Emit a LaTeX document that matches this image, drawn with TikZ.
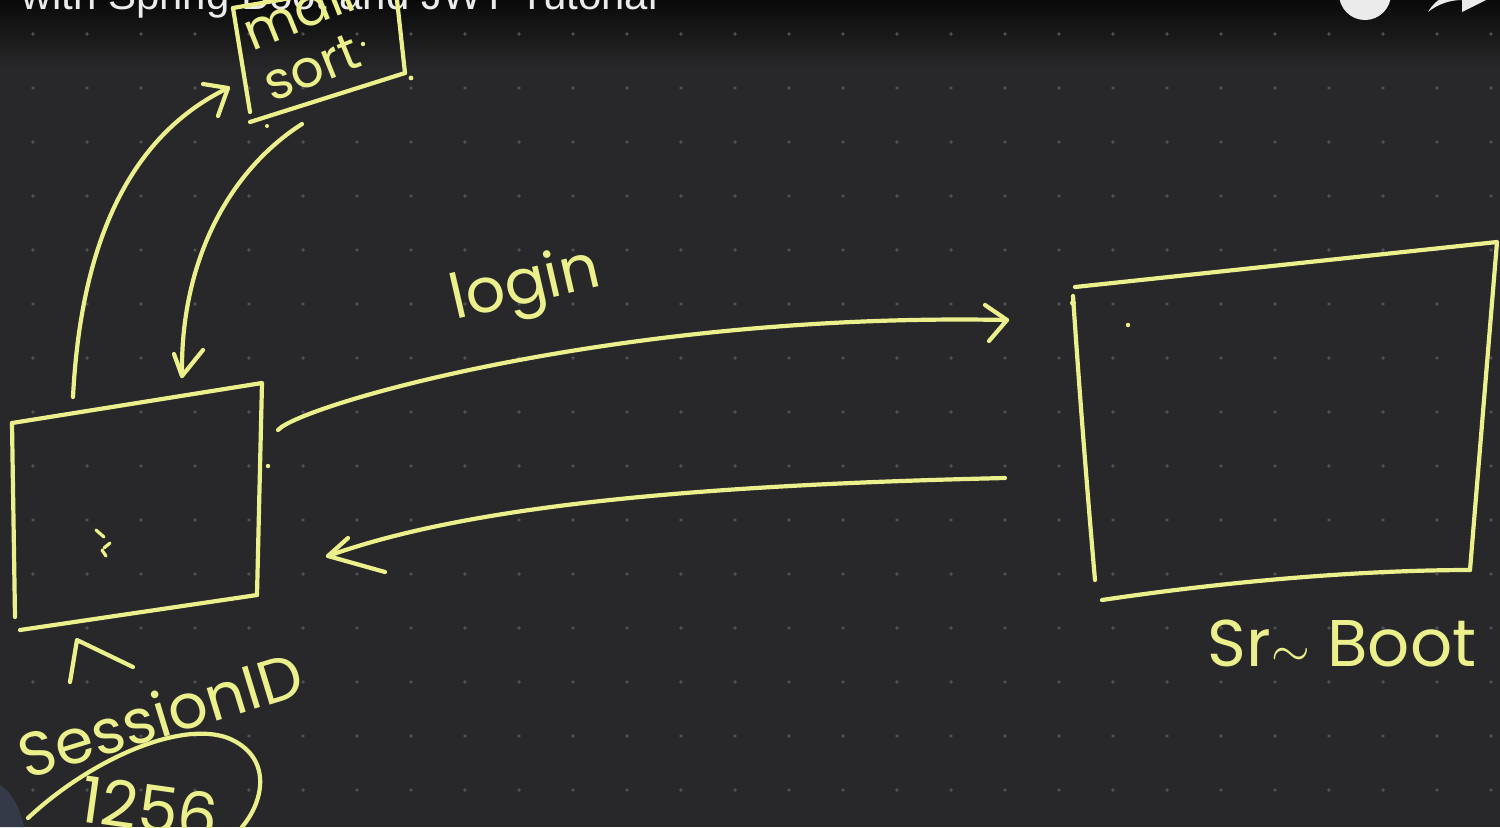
\documentclass[tikz,border=0pt]{standalone}
\usepackage{fontspec}
\setmainfont{Liberation Sans}
\newfontfamily\handfont{Poppins}
\definecolor{board}{RGB}{40,40,42}
\definecolor{chalk}{RGB}{236,240,140}
\definecolor{griddot}{RGB}{80,80,82}
\definecolor{person}{RGB}{52,58,72}
\begin{document}
\begin{tikzpicture}[x=0.5pt,y=-0.5pt,
  pen/.style={draw=chalk, line width=2.1pt, line cap=round, line join=round},
  hand/.style={text=chalk, font=\handfont\fontsize{26}{26}\selectfont, inner sep=0pt}]
\useasboundingbox (0,0) rectangle (1500,827);
\clip (0,0) rectangle (1500,827);
\fill[board] (0,0) rectangle (1500,827);
\shade[top color=black!75!board, bottom color=board] (0,0) rectangle (1500,70);
% grid of dots
\foreach \i in {0,...,27}{\foreach \j in {0,...,15}{
  \fill[griddot] (33+54*\i,34+54*\j) circle (1.8);}}
% video title (cut off)
\node[anchor=base east, text=white!92!black, font=\fontsize{21}{21}\selectfont, inner sep=0pt] (title) at (658,9) {with Spring Boot and JWT Tutorial};
% player icons
\fill[white!92!black] (1365,-6) circle (26);
\fill[white!92!black] (1428,12) .. controls (1436,-2) and (1450,-8) .. (1462,-8) -- (1462,-20) -- (1490,-2) -- (1462,12) -- (1462,0) .. controls (1450,0) and (1438,4) .. cycle;
% person at the lower left corner
\fill[person] (0,785) .. controls (12,792) and (20,808) .. (24,827) -- (0,827) -- cycle;

% ---- client box
\coordinate (c1) at (12,423); \coordinate (c2) at (262,383);
\coordinate (c3) at (257,595); \coordinate (c4) at (15,617);
\coordinate (c5) at (20,630);
\draw[pen] (c1) -- (c2) -- (c3);
\draw[pen] (c1) -- (c4);
\draw[pen] (c5) -- (c3);
\fill[chalk] (268,466) circle (2.2);
\draw[pen, line width=1.6pt] (96,530) -- (104,537) (110,543) -- (104,548) (102,550) -- (106,556);
\node[inner sep=0pt] (client) at (136,505) {};

% ---- server box
\coordinate (s1) at (1075,287); \coordinate (s2) at (1497,242);
\coordinate (s3) at (1470,570); \coordinate (s4) at (1095,580);
\coordinate (s5) at (1102,600);
\draw[pen] (s1) -- (s2) -- (s3);
\draw[pen] (1073,296) .. controls (1080,400) and (1088,500) .. (s4);
\draw[pen] (s5) .. controls (1250,578) and (1380,570) .. (s3);
\fill[chalk] (1073,303) circle (3);
\fill[chalk] (1128,325) circle (2.2);
\node[inner sep=0pt] (server) at (1280,420) {};

% ---- mail sort box
\coordinate (m1) at (233,8); \coordinate (m2) at (250,112);
\coordinate (m3) at (397,0); \coordinate (m4) at (405,73);
\coordinate (m5) at (250,122);
\draw[pen] (m1) -- (m2);
\draw[pen] (m3) -- (m4);
\draw[pen] (m5) -- (m4);
\draw[pen] (233,8) -- (395,-20);
\fill[chalk] (411,78) circle (2.4);
\fill[chalk] (267,126) circle (2);
\node[hand, rotate=22] (mall) at (298,12) {mall};
\node[hand, rotate=22] (sort) at (312,68) {sort};
\fill[chalk] (363,44) circle (2.2);

% ---- arrows to and from the mail sort box
\coordinate (u0) at (73,397); \coordinate (u1) at (228,88);
\draw[pen] (u0) .. controls (80,260) and (120,140) .. (u1);
\draw[pen] (203,84) -- (u1) -- (218,116);
\coordinate (d0) at (302,124); \coordinate (d1) at (182,376);
\draw[pen] (d0) .. controls (230,170) and (180,260) .. (d1);
\draw[pen] (174,354) -- (d1) -- (203,350);

% ---- login arrow
\coordinate (l0) at (278,430); \coordinate (l1) at (1007,320);
\draw[pen] (l0) .. controls (300,405) and (620,312) .. (l1);
\draw[pen] (985,305) -- (l1) -- (989,341);
\node[hand, rotate=13, font=\handfont\fontsize{31}{31}\selectfont] (login) at (526,288) {login};

% ---- return arrow
\coordinate (r0) at (1005,478); \coordinate (r1) at (328,556);
\draw[pen] (r0) .. controls (700,485) and (470,505) .. (r1);
\draw[pen] (348,538) -- (r1) -- (385,572);

% ---- session id
\coordinate (a0) at (70,682); \coordinate (a1) at (77,640);
\draw[pen] (a0) -- (a1) -- (133,667);
\node[hand, rotate=17, font=\handfont\fontsize{31}{31}\selectfont] (session) at (160,714) {SessionID};
\draw[pen] (28,818) .. controls (90,760) and (180,720) .. (228,738)
  .. controls (272,756) and (265,800) .. (242,827);
\node[hand, rotate=-8, font=\handfont\fontsize{32}{32}\selectfont] (num) at (150,808) {1256};

% ---- server label
\node[hand, font=\handfont\fontsize{33}{33}\selectfont] (spring) at (1342,643) {Sr$\sim$ Boot};
\end{tikzpicture}
\end{document}
